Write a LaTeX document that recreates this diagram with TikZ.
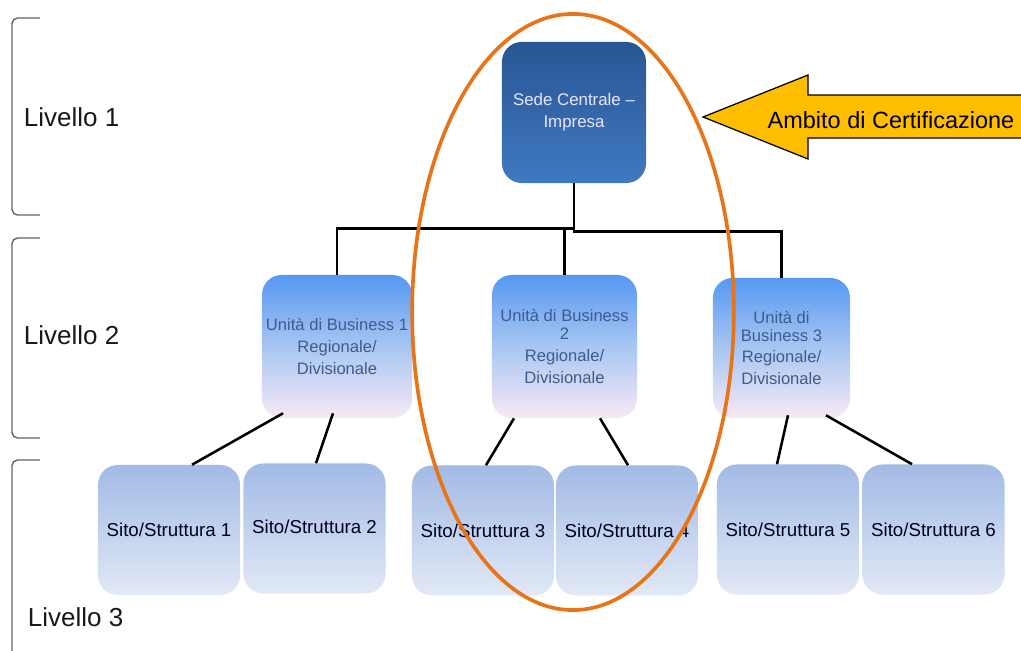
\documentclass[tikz,border=0pt]{standalone}
\usepackage{fontspec}
\setmainfont{Liberation Sans}
\usetikzlibrary{calc}
\definecolor{hqdark}{RGB}{40,86,148}
\definecolor{hqlight}{RGB}{64,121,192}
\definecolor{unittop}{RGB}{86,152,242}
\definecolor{unitmid}{RGB}{168,198,242}
\definecolor{unitbot}{RGB}{247,233,246}
\definecolor{unittext}{RGB}{62,92,140}
\definecolor{sitetop}{RGB}{162,186,229}
\definecolor{sitebot}{RGB}{226,233,246}
\definecolor{ringorange}{RGB}{232,116,26}
\definecolor{arrowyellow}{RGB}{255,190,0}
\definecolor{bracegray}{RGB}{100,100,100}
\tikzset{
  hqbox/.style={rounded corners=14pt, minimum width=3.6cm, minimum height=3.525cm,
    align=center, top color=hqdark, bottom color=hqlight, text=white!90!blue,
    font=\fontsize{12}{15.6}\selectfont},
  unitbox/.style={rounded corners=14pt, minimum height=3.575cm, align=center,
    inner sep=2pt, top color=unittop, bottom color=unitbot, middle color=unitmid,
    text=unittext, font=\fontsize{11.8}{12.5}\selectfont},
  sitebox/.style={rounded corners=14pt, minimum width=3.55cm, minimum height=3.25cm,
    align=center, top color=sitetop, bottom color=sitebot, text=black!85!blue,
    font=\fontsize{13.3}{16}\selectfont},
  link/.style={line width=1.8pt, black},
  levelbrace/.style={draw=bracegray, line width=1pt, rounded corners=4pt},
  levellabel/.style={anchor=west, font=\fontsize{18.5}{22}\selectfont, text=black!90},
  scopering/.style={draw=ringorange, line width=2.6pt},
  scopearrow/.style={draw=black, line width=0.9pt, fill=arrowyellow, line join=miter}
}

\begin{document}
\begin{tikzpicture}[x=0.025cm, y=-0.025cm]
\useasboundingbox (0,0) rectangle (1021,651);

% level brackets and labels
\draw[levelbrace] (40,18) -- (12,18) -- (12,215) -- (40,215);
\draw[levelbrace] (40,238) -- (12,238) -- (12,438) -- (40,438);
\draw[levelbrace] (40,460) -- (12,460) -- (12,670);
\node[levellabel] (lv1) at (19,117) {Livello 1};
\node[levellabel] (lv2) at (19,335) {Livello 2};
\node[levellabel] (lv3) at (23,617) {Livello 3};

% boxes
\node[hqbox] (hq) at (574,112.5) {Sede Centrale --\\Impresa};

\node[unitbox, minimum width=3.75cm] (ub1) at (337,346.5)
  {Unità di Business 1\\[3pt]Regionale/\\[3pt]Divisionale};
\node[unitbox, minimum width=3.625cm] (ub2) at (564.5,346.5)
  {Unità di Business\\2\\[3pt]Regionale/\\[3pt]Divisionale};
\node[unitbox, minimum width=3.425cm, minimum height=3.5cm] (ub3) at (781.5,348)
  {Unità di\\Business 3\\[3pt]Regionale/\\[3pt]Divisionale};

\node[sitebox] (s1) at (169,530) {Sito/Struttura 1};
\node[sitebox] (s2) at (314.5,528.5) {\raisebox{3pt}{Sito/Struttura 2}};
\node[sitebox] (s3) at (483,530.5) {Sito/Struttura 3};
\node[sitebox] (s4) at (627,530.5) {Sito/Struttura 4};
\node[sitebox] (s5) at (788,529.5) {Sito/Struttura 5};
\node[sitebox] (s6) at (933.5,529.5) {Sito/Struttura 6};

% tree connectors
\draw[link] (ub1.north) -- ++(0,-46) -| (hq.south);
\draw[link] (ub2.north) -- ++(0,-46);
\draw[link] (ub3.north) -- ++(0,-46) -| (hq.south);

\draw[link] ($(ub1.south)+(-54,-5)$) -- ($(s1.north)+(23,0)$);
\draw[link] ($(ub1.south)+(-4,-5)$) -- ($(s2.north)+(1.5,0)$);
\draw[link] ($(ub2.south)+(-50.5,0)$) -- ($(s3.north)+(3,0)$);
\draw[link] ($(ub2.south)+(35.5,0)$) -- ($(s4.north)+(1,0)$);
\draw[link] ($(ub3.south)+(6.5,-3)$) -- ($(s5.north)+(-11,0)$);
\draw[link] ($(ub3.south)+(44.5,-3)$) -- ($(s6.north)+(-21.5,0)$);

% certification scope
\draw[scopering] (573,312) ellipse [x radius=4.02cm, y radius=7.45cm];
\draw[scopearrow] (703,117) -- (808,75) -- (808,95) -- (1040,95)
  -- (1040,138) -- (808,138) -- (808,159) -- cycle;
\node[font=\fontsize{16.7}{20}\selectfont] (scope) at (891,120) {Ambito di Certificazione};
\end{tikzpicture}
\end{document}
